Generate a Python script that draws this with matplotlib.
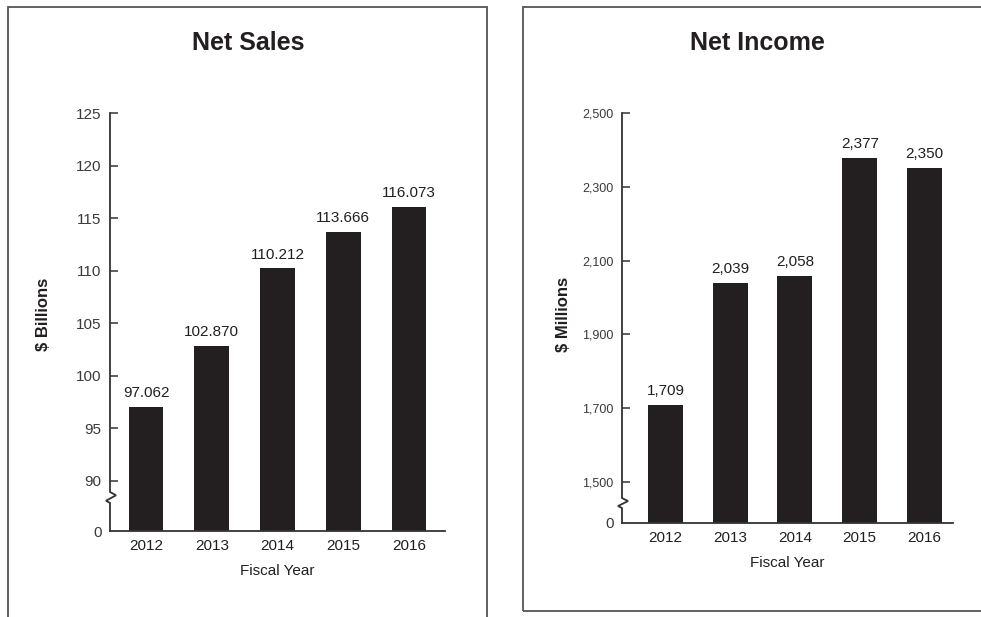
import matplotlib.pyplot as plt
import matplotlib.transforms as mtransforms
from matplotlib.patches import Rectangle

plt.rcParams['font.family'] = ['Liberation Sans', 'DejaVu Sans']

#--- data ---
years = ['2012', '2013', '2014', '2015', '2016']
net_sales = [97.062, 102.870, 110.212, 113.666, 116.073]     # $ billions
net_income = [1709, 2039, 2058, 2377, 2350]                 # $ millions
sales_ticks = [90, 95, 100, 105, 110, 115, 120, 125]
income_ticks = [1500, 1700, 1900, 2100, 2300, 2500]

W, H = 981, 617
bar_col = '#231f20'
txt_col = '#231f20'
ax_col = '#333333'

fig = plt.figure(figsize=(W/100, H/100), dpi=100)

# panel frames (pixel coords -> figure fraction)
def frame(x0, y0, x1, y1):
    fig.patches.append(Rectangle((x0/W, 1-y1/H), (x1-x0)/W, (y1-y0)/H,
                                 transform=fig.transFigure, fill=False,
                                 edgecolor='#555555', lw=1.3))

frame(8, 7, 487, 640)
frame(523, 7, 1000, 611)

# broken y axis: plain line with a small zigzag near the bottom
def zigzag(ax, ybot, ylo, yhi, ytop, wpx):
    tr = mtransforms.blended_transform_factory(ax.transAxes, ax.transData)
    d = 1./wpx
    kw = dict(transform=tr, color=ax_col, lw=1.3, clip_on=False,
              solid_joinstyle='miter')
    h = yhi - ylo
    ax.plot([0, 0, -4*d, 6*d, 0, 0],
            [ybot, ylo, ylo+0.2*h, ylo+0.7*h, yhi, ytop], **kw)

def panel(px, title, vals, ticks, base, ylabel, labels, xl,
          tick_fs, title_x, ylab_x):
    x0, y0, x1, y1 = px
    ax = fig.add_axes([x0/W, 1-y1/H, (x1-x0)/W, (y1-y0)/H])
    xs = list(range(len(years)))
    ax.bar(xs, [v-base for v in vals], bottom=base, width=xl[2],
           color=bar_col, zorder=2)
    for x, v, l in zip(xs, vals, labels):
        ax.annotate(l, (x, v), xytext=(0, 5), textcoords='offset points',
                    ha='center', va='bottom', fontsize=11, color=txt_col)
    ax.set_xlim(xl[0], xl[1])
    ax.set_ylim(base, ticks[-1])
    ax.set_xticks(xs)
    ax.set_xticklabels(years, fontsize=11, color=txt_col)
    ax.tick_params(axis='x', length=0, pad=6)
    ax.set_yticks([base] + ticks)
    ax.set_yticklabels(['0'] + [f'{t:,}' for t in ticks], fontsize=tick_fs,
                       color='#3a3a3a')
    ax.get_yticklabels()[0].set_fontsize(11)
    ax.tick_params(axis='y', direction='in', length=5.5, width=1.1,
                   color=ax_col, pad=6)
    ax.yaxis.get_major_ticks()[0].tick1line.set_visible(False)
    for s in ['top', 'right', 'left']:
        ax.spines[s].set_visible(False)
    ax.spines['bottom'].set_color(ax_col)
    ax.spines['bottom'].set_linewidth(1.3)
    ax.set_facecolor('none')
    ax.set_xlabel('Fiscal Year', fontsize=11, color=txt_col, labelpad=8)
    fig.text(title_x/W, 1-43/H, title, ha='center', va='center',
             fontsize=18, fontweight='bold', color=txt_col)
    fig.text(ylab_x/W, 1-314/H, ylabel, ha='center', va='center',
             rotation=90, fontsize=12, fontweight='bold', color=txt_col)
    return ax

# Net Sales (left)
ax1 = panel((110, 113, 445, 531), 'Net Sales', net_sales, sales_ticks,
            85.24, '$ Billions', [f'{v:.3f}' for v in net_sales],
            (-0.548, 4.548, 0.53), 11, 248, 43)
zigzag(ax1, 85.24, 87.91, 88.95, 125, 335)

# Net Income (right)
ax2 = panel((622, 113, 953, 523), 'Net Income', net_income, income_ticks,
            1389, '$ Millions', [f'{v:,}' for v in net_income],
            (-0.67, 4.44, 0.54), 9, 757, 563)
zigzag(ax2, 1389, 1429.5, 1456.6, 2500, 331)

fig.savefig('out.png', dpi=100, facecolor='white')
